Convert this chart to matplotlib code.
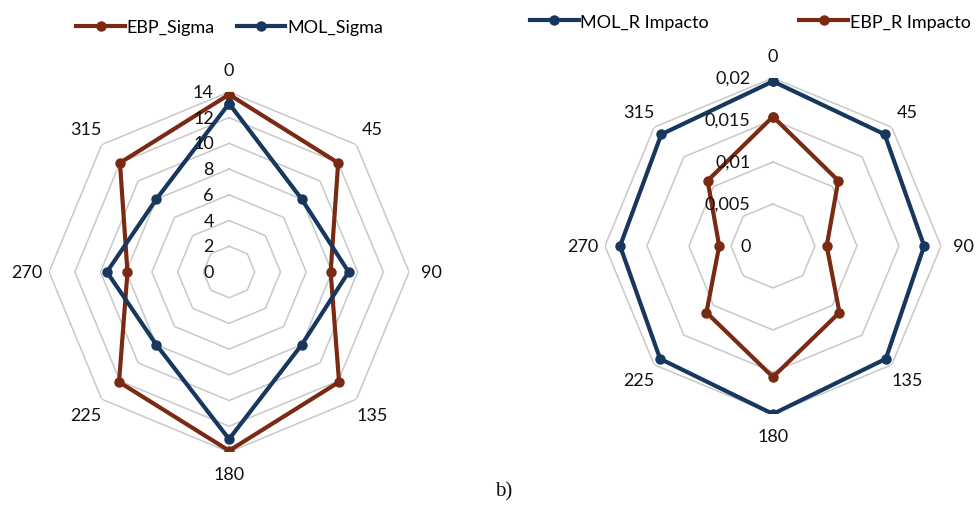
import numpy as np
import matplotlib.pyplot as plt

# direction labels (degrees)
directions = ["0", "45", "90", "135", "180", "225", "270", "315"]

# left panel: sigma
ebp_sigma = [13.8, 12.0, 7.9, 12.1, 13.9, 12.1, 7.9, 12.0]
mol_sigma = [13.1, 8.0, 9.3, 8.0, 13.0, 8.0, 9.5, 8.0]
sigma_ticks = [0, 2, 4, 6, 8, 10, 12, 14]

# right panel: R impacto
mol_r = [0.0196, 0.0188, 0.0180, 0.0190, 0.0200, 0.0190, 0.0182, 0.0188]
ebp_r = [0.0154, 0.0110, 0.0064, 0.0112, 0.0156, 0.0112, 0.0064, 0.0110]
r_ticks = [0, 0.005, 0.01, 0.015, 0.02]
r_tick_labels = ["0", "0,005", "0,01", "0,015", "0,02"]

BROWN = "#7a2a12"
NAVY = "#17375e"
GRID = "#c8c8c8"
TXT = "#111111"
FS = 13

plt.rcParams["font.family"] = ["Lato", "DejaVu Sans"]

angles = np.deg2rad(np.arange(0, 360, 45))
closed = np.append(angles, angles[0])


def close(v):
    return list(v) + [v[0]]


def radar(ax, rmax, ticks, tick_labels, label_off, lab_r):
    ax.set_theta_zero_location("N")
    ax.set_theta_direction(-1)
    ax.set_ylim(0, rmax)
    ax.grid(False)
    ax.spines["polar"].set_visible(False)
    ax.set_xticks([])
    ax.set_yticks([])
    ax.patch.set_alpha(0)
    # octagon rings
    for t in ticks:
        if t > 0:
            ax.plot(closed, [t] * 9, color=GRID, lw=1.1, zorder=1)
    for t, lab in zip(ticks, tick_labels):
        ax.annotate(lab, xy=(0, t), xytext=(label_off, 0), textcoords="offset points",
                    ha="right", va="center", fontsize=FS, color=TXT, zorder=5)
    for a, d in zip(angles, directions):
        ax.text(a, lab_r, d, ha="center", va="center", fontsize=FS, color=TXT,
                clip_on=False)


fig = plt.figure(figsize=(9.77, 5.06), dpi=100)

ax1 = fig.add_axes([0.0502, 0.1048, 0.3685, 0.7115], projection="polar")
radar(ax1, 14, sigma_ticks, [str(t) for t in sigma_ticks], -11, 14 * 202 / 180)
ax1.plot(closed, close(ebp_sigma), color=BROWN, lw=3, marker="o", ms=6.5, zorder=3,
         label="EBP_Sigma")
ax1.plot(closed, close(mol_sigma), color=NAVY, lw=3, marker="o", ms=6.5, zorder=3,
         label="MOL_Sigma")
ax1.legend(loc="center", bbox_to_anchor=(0.235, 0.945), bbox_transform=fig.transFigure,
           ncol=2, frameon=False, fontsize=FS, handlelength=2.7, handletextpad=0.1,
           columnspacing=1.2)

ax2 = fig.add_axes([0.6192, 0.1799, 0.3439, 0.664], projection="polar")
radar(ax2, 0.02, r_ticks, r_tick_labels, -16, 0.02 * 190 / 168)
ax2.plot(closed, close(mol_r), color=NAVY, lw=3, marker="o", ms=6.5, zorder=3,
         label="MOL_R Impacto")
ax2.plot(closed, close(ebp_r), color=BROWN, lw=3, marker="o", ms=6.5, zorder=3,
         label="EBP_R Impacto")
ax2.legend(loc="center", bbox_to_anchor=(0.768, 0.955), bbox_transform=fig.transFigure,
           ncol=2, frameon=False, fontsize=FS, handlelength=2.7, handletextpad=0.1,
           columnspacing=5.0)

fig.text(0.515, 0.028, "b)", ha="center", va="center", fontsize=15,
         family="Liberation Serif", color=TXT)

fig.savefig("out.png", dpi=100)
